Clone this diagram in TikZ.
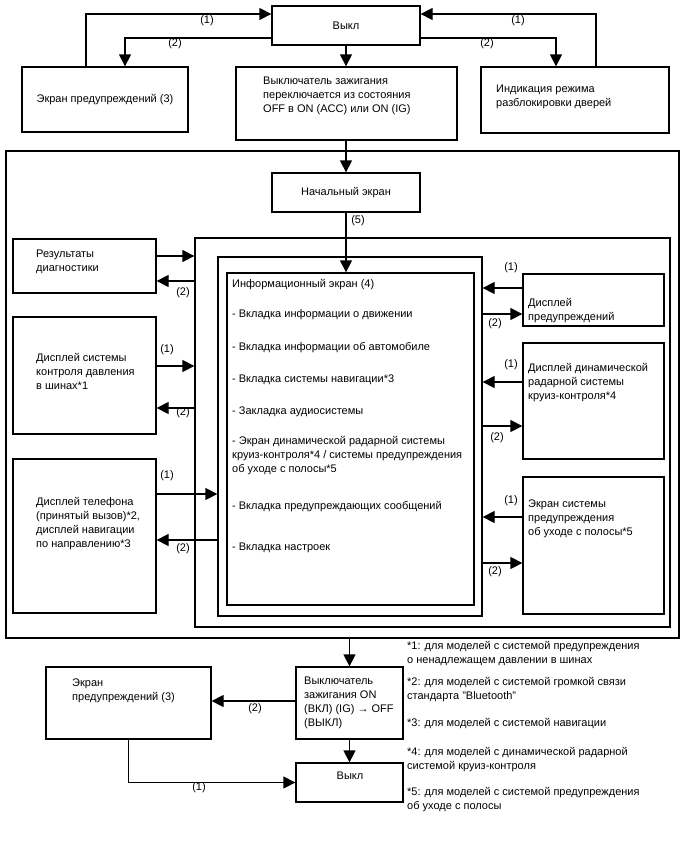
\documentclass[tikz,border=0pt]{standalone}
\usepackage{fontspec}
\setmainfont{Liberation Sans}
\usetikzlibrary{arrows.meta}

\begin{document}
\begin{tikzpicture}[x=1pt, y=-1pt,
    box/.style={draw, line width=1.3pt, inner sep=0pt, font=\fontsize{11}{14}\selectfont},
    txt/.style={font=\fontsize{11}{14}\selectfont, align=left, inner sep=0pt, anchor=west},
    num/.style={font=\fontsize{11}{14}\selectfont, inner sep=0pt},
    arr/.style={line width=1.3pt, -{Triangle[length=12pt,width=12pt]}}
]

\fill[white] (0,0) rectangle (688,852);
\useasboundingbox (0,0) rectangle (688,852);

% top row
\node[box, minimum width=148pt, minimum height=39pt] (vykl) at (346,25.5) {Выкл};
\node[box, minimum width=166pt, minimum height=65pt] (warnA) at (105,99.5) {Экран предупреждений (3)};
\node[box, minimum width=221pt, minimum height=73pt] (ignA) at (346.5,103.5) {};
\node[box, minimum width=188pt, minimum height=66pt] (doorInd) at (575,100) {};

\node[txt] (ignAtxt) at (263,96) {Выключатель зажигания\\переключается из состояния\\OFF в ON (ACC) или ON (IG)};
\node[txt] (doorTxt) at (496,97) {Индикация режима\\разблокировки дверей};

% frames
\node[box, minimum width=673pt, minimum height=487pt] (outer) at (342.5,394.5) {};
\node[box, minimum width=148pt, minimum height=39pt] (home) at (346,192.5) {Начальный экран};
\node[box, minimum width=475pt, minimum height=389pt] (frameB) at (432.5,432.5) {};
\node[box, minimum width=264pt, minimum height=359pt] (frameC) at (350,436.5) {};
\node[box, minimum width=247pt, minimum height=332pt] (info) at (350.5,439) {};

% info screen items
\node[txt] (it0) at (232,285) {Информационный экран (4)};
\node[txt] (it1) at (232,315) {- Вкладка информации о движении};
\node[txt] (it2) at (232,348) {- Вкладка информации об автомобиле};
\node[txt] (it3) at (232,380) {- Вкладка системы навигации*3};
\node[txt] (it4) at (232,412) {- Закладка аудиосистемы};
\node[txt] (it5) at (232,456) {- Экран динамической радарной системы\\круиз-контроля*4 / системы предупреждения\\об уходе с полосы*5};
\node[txt] (it6) at (232,507) {- Вкладка предупреждающих сообщений};
\node[txt] (it7) at (232,548) {- Вкладка настроек};

% left column
\node[box, minimum width=143pt, minimum height=54pt] (diag) at (84.5,266) {};
\node[box, minimum width=143pt, minimum height=117pt] (tpms) at (84.5,375.5) {};
\node[box, minimum width=143pt, minimum height=154pt] (phone) at (84.5,536) {};
\node[txt] (diagTxt) at (36,262) {Результаты\\диагностики};
\node[txt] (tpmsTxt) at (36,371) {Дисплей системы\\контроля давления\\в шинах*1};
\node[txt] (phoneTxt) at (36,524) {Дисплей телефона\\(принятый вызов)*2,\\дисплей навигации\\по направлению*3};

% right column
\node[box, minimum width=141pt, minimum height=52pt] (warnDisp) at (593.5,300) {};
\node[box, minimum width=141pt, minimum height=116pt] (radar) at (593.5,401) {};
\node[box, minimum width=141pt, minimum height=137pt] (lane) at (593.5,545.5) {};
\node[txt] (warnDispTxt) at (528,311) {Дисплей\\предупреждений};
\node[txt] (radarTxt) at (528,383) {Дисплей динамической\\радарной системы\\круиз-контроля*4};
\node[txt] (laneTxt) at (528,519) {Экран системы\\предупреждения\\об уходе с полосы*5};

% bottom
\node[box, minimum width=107pt, minimum height=72pt] (ignB) at (349.5,703) {};
\node[box, minimum width=165pt, minimum height=72pt] (warnB) at (128.5,703) {};
\node[box, minimum width=107pt, minimum height=39pt] (vykl2) at (349.5,782.5) {};
\node[txt] (ignBTxt) at (304,703) {Выключатель\\зажигания ON\\(ВКЛ) (IG) → OFF\\(ВЫКЛ)};
\node[txt] (warnBTxt) at (72,691) {Экран\\предупреждений (3)};
\node[num] (vykl2Txt) at (350,776) {Выкл};

% notes
\node[txt] (fn1) at (407,654) {*1: для моделей с системой предупреждения\\о ненадлежащем давлении в шинах};
\node[txt] (fn2) at (407,690) {*2: для моделей с системой громкой связи\\стандарта "Bluetooth"};
\node[txt] (fn3) at (407,724) {*3: для моделей с системой навигации};
\node[txt] (fn4) at (407,760) {*4: для моделей с динамической радарной\\системой круиз-контроля};
\node[txt] (fn5) at (407,800) {*5: для моделей с системой предупреждения\\об уходе с полосы};

% connectors, top
\draw[arr] ([xshift=-19pt]warnA.north) |- ([yshift=11.5pt]vykl.west);
\draw[arr] ([yshift=-12.5pt]vykl.west) -| ([xshift=20pt]warnA.north);
\draw[arr] ([xshift=21pt]doorInd.north) |- ([yshift=11.5pt]vykl.east);
\draw[arr] ([yshift=-12.5pt]vykl.east) -| ([xshift=-19pt]doorInd.north);
\draw[arr] (vykl.south) -- (vykl.south |- ignA.north);
\draw[arr] (home.north |- ignA.south) -- (home.north);
\draw[arr] (home.south) -- (home.south |- info.north);
\node[num] (l1) at (207,21) {(1)};
\node[num] (l2) at (175,44) {(2)};
\node[num] (l3) at (518,21) {(1)};
\node[num] (l4) at (487,44) {(2)};
\node[num] (l5) at (358,221) {(5)};

% connectors, left
\draw[arr] ([yshift=10pt]diag.east) -- ([yshift=10pt]diag.east -| frameB.west);
\draw[arr] ([yshift=-15pt]diag.east -| frameB.west) -- ([yshift=-15pt]diag.east);
\draw[arr] ([yshift=9.5pt]tpms.east) -- ([yshift=9.5pt]tpms.east -| frameB.west);
\draw[arr] ([yshift=-32.5pt]tpms.east -| frameB.west) -- ([yshift=-32.5pt]tpms.east);
\draw[arr] ([yshift=42pt]phone.east) -- ([yshift=42pt]phone.east -| frameC.west);
\draw[arr] ([yshift=-4pt]phone.east -| frameC.west) -- ([yshift=-4pt]phone.east);
\node[num] (l6) at (183,293) {(2)};
\node[num] (l7) at (167,350) {(1)};
\node[num] (l8) at (183,413) {(2)};
\node[num] (l9) at (167,476) {(1)};
\node[num] (l10) at (183,549) {(2)};

% connectors, right
\draw[arr] ([yshift=12pt]warnDisp.west) -- ([yshift=12pt]warnDisp.west -| frameC.east);
\draw[arr] ([yshift=-14pt]warnDisp.west -| frameC.east) -- ([yshift=-14pt]warnDisp.west);
\draw[arr] ([yshift=19pt]radar.west) -- ([yshift=19pt]radar.west -| frameC.east);
\draw[arr] ([yshift=-25pt]radar.west -| frameC.east) -- ([yshift=-25pt]radar.west);
\draw[arr] ([yshift=28.5pt]lane.west) -- ([yshift=28.5pt]lane.west -| frameC.east);
\draw[arr] ([yshift=-17.5pt]lane.west -| frameC.east) -- ([yshift=-17.5pt]lane.west);
\node[num] (l11) at (511,268) {(1)};
\node[num] (l12) at (495,324) {(2)};
\node[num] (l13) at (511,365) {(1)};
\node[num] (l14) at (497,438) {(2)};
\node[num] (l15) at (511,501) {(1)};
\node[num] (l16) at (495,572) {(2)};

% connectors, bottom
\draw[arr] (ignB.north |- outer.south) -- (ignB.north);
\draw[arr] ([yshift=2pt]ignB.west) -- ([yshift=2pt]ignB.west -| warnB.east);
\draw[arr] (ignB.south) -- (vykl2.north);
\draw[arr] (warnB.south) |- (vykl2.west);
\node[num] (l17) at (255,709) {(2)};
\node[num] (l18) at (199,788) {(1)};

\end{tikzpicture}
\end{document}
